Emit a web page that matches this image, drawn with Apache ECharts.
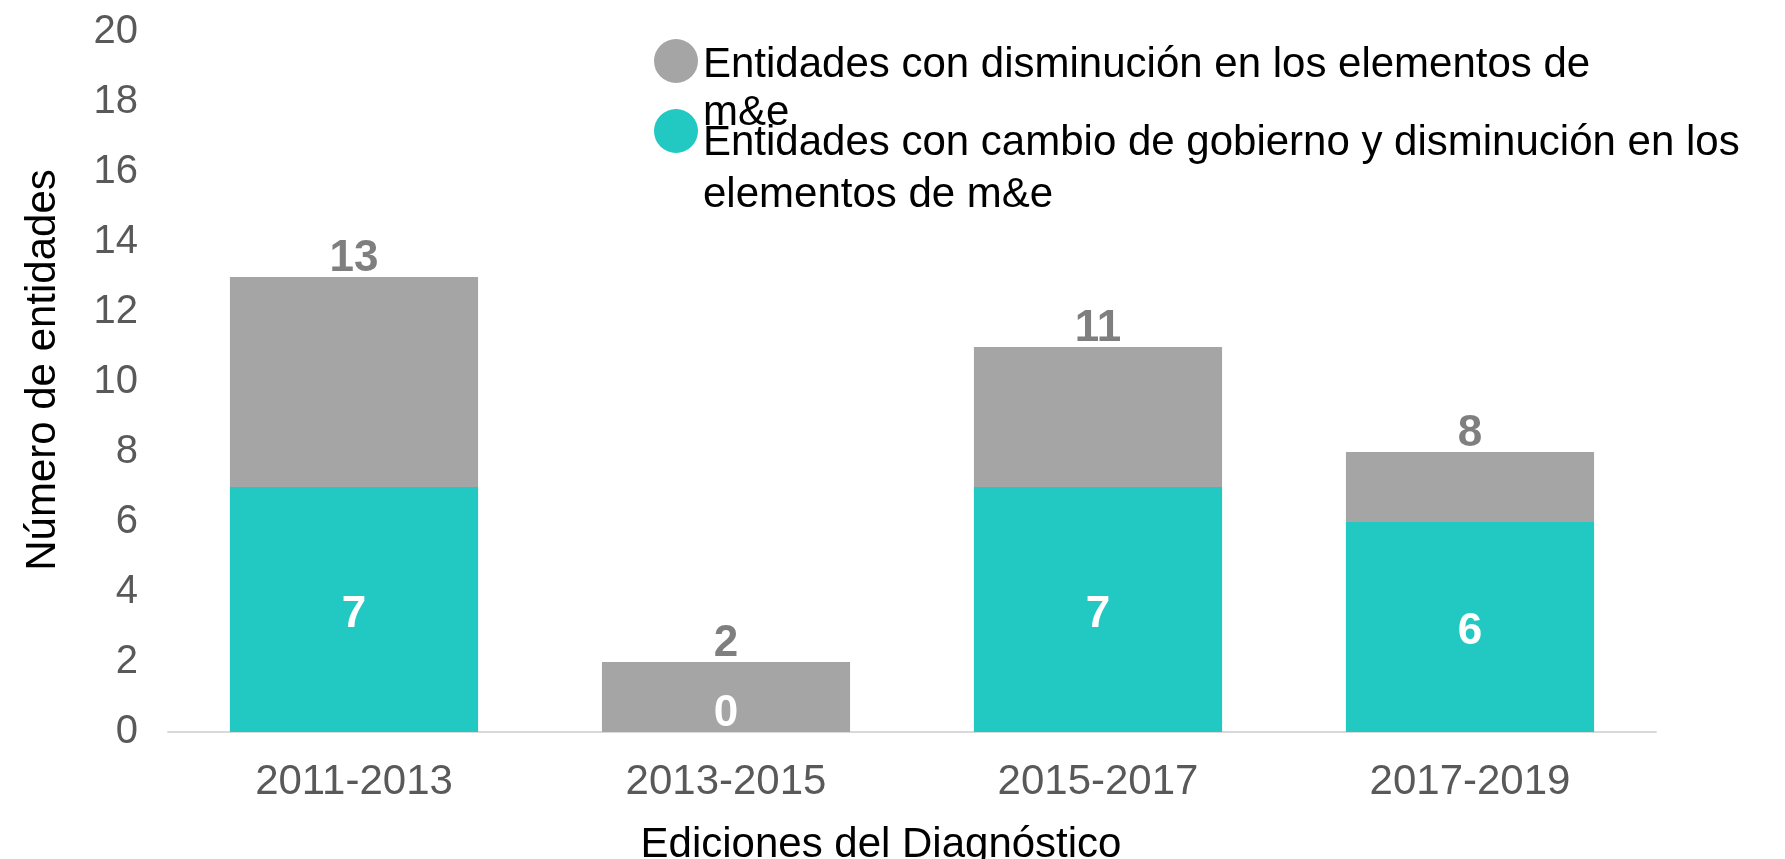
<!DOCTYPE html>
<html>
<head>
<meta charset="utf-8">
<script src="https://cdn.jsdelivr.net/npm/echarts@6/dist/echarts.min.js"></script>
<style>
  html, body { margin: 0; padding: 0; background: #fff; }
  #chart { width: 1785px; height: 859px; }
</style>
</head>
<body>
<div id="chart"></div>
<script>
var categories = ['2011-2013', '2013-2015', '2015-2017', '2017-2019'];
var totalDecrease = [13, 2, 11, 8];
var govChangeDecrease = [7, 0, 7, 6];
var seriesNames = [
  'Entidades con disminución en los elementos de m&e',
  'Entidades con cambio de gobierno y disminución en los elementos de m&e'
];

var gray = '#a5a5a5';
var teal = '#21c9c2';
var font = '"Liberation Sans", Arial, sans-serif';

// circles sitting high in a tall box, so the dot lines up with the first text line
var dotIcon1 = 'path://M0,22A22,22,0,1,1,44,22A22,22,0,1,1,0,22ZM22,100L22,100';
var dotIcon2 = 'path://M0,12A22,22,0,1,1,44,12A22,22,0,1,1,0,12ZM22,-10L22,-10M22,110L22,110';

var chart = echarts.init(document.getElementById('chart'));
chart.setOption({
  animation: false,
  textStyle: { fontFamily: font },
  grid: { left: 168, right: 129, top: 32, bottom: 127, outerBoundsMode: 'none' },
  legend: [
    {
      data: [seriesNames[0]], left: 654, top: 39, padding: 0,
      icon: dotIcon1, itemWidth: 44, itemHeight: 100, selectedMode: false,
      formatter: function(n) { return n.replace(' m&e', '\nm&e'); },
      textStyle: { fontSize: 42, color: '#000', lineHeight: 48 }
    },
    {
      data: [seriesNames[1]], left: 654, top: 109, padding: 0,
      icon: dotIcon2, itemWidth: 44, itemHeight: 120, selectedMode: false,
      formatter: function(n) { return n.replace(' elementos de', '\nelementos de'); },
      textStyle: { fontSize: 42, color: '#000', lineHeight: 52 }
    }
  ],
  xAxis: {
    type: 'category',
    data: categories,
    name: 'Ediciones del Diagnóstico',
    nameLocation: 'middle',
    nameGap: 92,
    nameTextStyle: { fontSize: 42, color: '#000', padding: [0, 62, 0, 0] },
    axisLine: { lineStyle: { color: '#d9d9d9', width: 2 } },
    axisTick: { show: false },
    axisLabel: { fontSize: 42, color: '#595959', margin: 29 }
  },
  yAxis: {
    type: 'value',
    min: 0, max: 20, interval: 2,
    name: 'Número de entidades',
    nameLocation: 'middle',
    nameGap: 104,
    nameTextStyle: { fontSize: 42, color: '#000', padding: [0, 0, 0, 24] },
    axisLine: { show: false },
    axisTick: { show: false },
    splitLine: { show: false },
    axisLabel: { fontSize: 40, color: '#595959', margin: 30 }
  },
  series: [
    {
      name: seriesNames[0],
      type: 'bar',
      data: totalDecrease,
      barWidth: '66.7%',
      barGap: '-100%',
      itemStyle: { color: gray },
      label: { show: true, position: 'top', distance: 0, offset: [0, 4], color: '#7f7f7f', fontWeight: 'bold', fontSize: 44 }
    },
    {
      name: seriesNames[1],
      type: 'bar',
      data: govChangeDecrease.map(function(v) {
        return v === 0 ? { value: v, label: { position: 'top', distance: 0, offset: [0, 4] } } : v;
      }),
      barWidth: '66.7%',
      barGap: '-100%',
      itemStyle: { color: teal },
      label: { show: true, position: 'inside', offset: [0, 5], color: '#fff', fontWeight: 'bold', fontSize: 44 }
    }
  ]
});
</script>
</body>
</html>
